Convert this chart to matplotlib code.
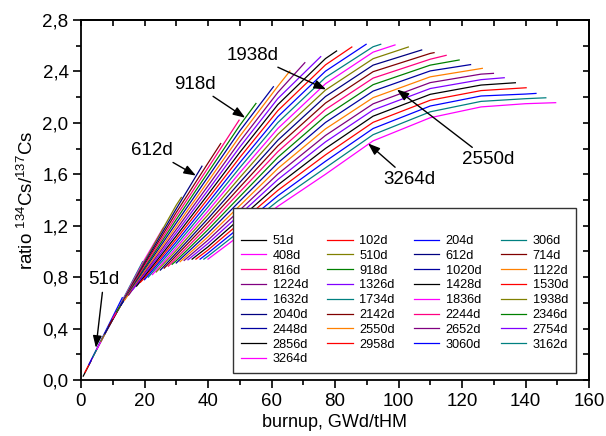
import matplotlib
matplotlib.use("Agg")
import matplotlib.pyplot as plt
import matplotlib.ticker as mt

plt.rcParams['font.family'] = ['Liberation Sans', 'DejaVu Sans']

# irradiation time of each curve, days
days = [51, 102, 204, 306, 408, 510, 612, 714, 816, 918, 1020, 1122, 1224,
        1326, 1428, 1530, 1632, 1734, 1836, 1938, 2040, 2142, 2244, 2346,
        2448, 2550, 2652, 2754, 2856, 2958, 3060, 3162, 3264]

# burnup (GWd/tHM) and 134Cs/137Cs ratio along each curve
burnup = [
    [0.7, 3.2],
    [1.25, 6.9],
    [2.5, 13.0],
    [3.75, 19.4],
    [5.0, 20, 25.8],
    [6.25, 20, 30, 31.6],
    [7.5, 20, 30, 38.1],
    [8.75, 20, 30, 40, 44.0],
    [10.0, 20, 30, 40, 49.8],
    [11.2, 20, 30, 40, 50, 55.1],
    [12.5, 20, 30, 40, 50, 60.6],
    [13.7, 20, 30, 40, 50, 62, 65.8],
    [15.0, 20, 30, 40, 50, 62, 70.5],
    [16.2, 20, 30, 40, 50, 62, 75.5],
    [17.5, 20, 30, 40, 50, 62, 77, 80.5],
    [18.7, 20, 30, 40, 50, 62, 77, 85.3],
    [20.0, 30, 40, 50, 62, 77, 89.8],
    [21.2, 30, 40, 50, 62, 77, 92, 94.4],
    [22.5, 30, 40, 50, 62, 77, 92, 98.9],
    [23.7, 30, 40, 50, 62, 77, 92, 103.1],
    [25.0, 30, 40, 50, 62, 77, 92, 107.3],
    [26.2, 30, 40, 50, 62, 77, 92, 110, 111.2],
    [27.5, 30, 40, 50, 62, 77, 92, 110, 115.0],
    [28.7, 30, 40, 50, 62, 77, 92, 110, 119.1],
    [30.0, 40, 50, 62, 77, 92, 110, 122.7],
    [31.2, 40, 50, 62, 77, 92, 110, 126.4],
    [32.5, 40, 50, 62, 77, 92, 110, 126, 129.9],
    [33.7, 40, 50, 62, 77, 92, 110, 126, 133.3],
    [35.0, 40, 50, 62, 77, 92, 110, 126, 136.8],
    [36.2, 40, 50, 62, 77, 92, 110, 126, 140.2],
    [37.5, 40, 50, 62, 77, 92, 110, 126, 140, 143.3],
    [38.7, 40, 50, 62, 77, 92, 110, 126, 140, 146.4],
    [40.0, 50, 62, 77, 92, 110, 126, 140, 149.5],
]
ratio = [
    [0.03, 0.15],
    [0.06, 0.33],
    [0.12, 0.64],
    [0.18, 0.92],
    [0.24, 0.936, 1.18],
    [0.30, 0.923, 1.36, 1.42],
    [0.36, 0.91, 1.331, 1.663],
    [0.42, 0.897, 1.303, 1.687, 1.839],
    [0.48, 0.884, 1.275, 1.650, 2.021],
    [0.53, 0.871, 1.248, 1.614, 1.980, 2.151],
    [0.58, 0.858, 1.221, 1.579, 1.937, 2.281],
    [0.62, 0.845, 1.195, 1.544, 1.895, 2.285, 2.403],
    [0.66, 0.832, 1.170, 1.510, 1.853, 2.237, 2.468],
    [0.70, 0.819, 1.145, 1.476, 1.811, 2.189, 2.515],
    [0.73, 0.806, 1.120, 1.443, 1.770, 2.142, 2.500, 2.559],
    [0.76, 0.793, 1.097, 1.410, 1.730, 2.095, 2.451, 2.590],
    [0.78, 1.074, 1.378, 1.690, 2.048, 2.402, 2.611],
    [0.80, 1.051, 1.346, 1.651, 2.002, 2.353, 2.592, 2.611],
    [0.82, 1.029, 1.315, 1.612, 1.956, 2.304, 2.550, 2.606],
    [0.84, 1.008, 1.285, 1.574, 1.911, 2.255, 2.499, 2.590],
    [0.855, 0.987, 1.255, 1.536, 1.865, 2.205, 2.449, 2.567],
    [0.87, 0.967, 1.226, 1.499, 1.821, 2.154, 2.398, 2.540, 2.546],
    [0.885, 0.947, 1.197, 1.462, 1.776, 2.104, 2.348, 2.495, 2.525],
    [0.90, 0.928, 1.169, 1.426, 1.732, 2.053, 2.297, 2.449, 2.489],
    [0.91, 1.141, 1.391, 1.688, 2.003, 2.247, 2.404, 2.453],
    [0.92, 1.114, 1.356, 1.645, 1.953, 2.196, 2.358, 2.424],
    [0.93, 1.088, 1.321, 1.602, 1.902, 2.148, 2.313, 2.379, 2.385],
    [0.935, 1.062, 1.287, 1.559, 1.852, 2.100, 2.267, 2.336, 2.351],
    [0.94, 1.036, 1.254, 1.517, 1.801, 2.052, 2.222, 2.294, 2.312],
    [0.94, 1.011, 1.221, 1.475, 1.751, 2.004, 2.176, 2.251, 2.273],
    [0.94, 0.987, 1.188, 1.433, 1.701, 1.956, 2.131, 2.209, 2.224, 2.229],
    [0.94, 0.963, 1.157, 1.392, 1.650, 1.908, 2.086, 2.167, 2.188, 2.195],
    [0.94, 1.125, 1.351, 1.600, 1.860, 2.040, 2.124, 2.149, 2.157],
]

# annotated curves: label, arrow tip, text position
notes = [
    ("51d", (4.7, 0.25), (7.2, 0.78)),
    ("612d", (36.2, 1.59), (22.4, 1.785)),
    ("918d", (51.7, 2.04), (35.9, 2.30)),
    ("1938d", (77.2, 2.26), (53.9, 2.525)),
    ("2550d", (99.5, 2.26), (128.2, 1.715)),
    ("3264d", (90.4, 1.84), (103.3, 1.56)),
]

colors = ['#000000', '#ff0000', '#0000ff', '#008080', '#ff00ff', '#808000',
          '#000080', '#800000', '#ff0080', '#008000', '#0000a0', '#ff8000',
          '#800080', '#8000ff']

fig = plt.figure(figsize=(6.06, 4.36), dpi=100)
ax = fig.add_axes([81 / 606, 56 / 436, 508 / 606, 360 / 436])

handles = []
for i, d in enumerate(days):
    h, = ax.plot(burnup[i], ratio[i], color=colors[i % len(colors)], lw=0.9,
                 label=f"{d}d")
    handles.append(h)

for label, tip, pos in notes:
    ax.annotate(label, xy=tip, xytext=pos, fontsize=13.5, ha='center', va='center',
                arrowprops=dict(arrowstyle='-|>,head_length=0.6,head_width=0.22',
                                color='k', lw=1, mutation_scale=12, shrinkA=1, shrinkB=0))

ax.set_xlim(0, 160)
ax.set_ylim(0, 2.8)
ax.xaxis.set_major_locator(mt.MultipleLocator(20))
ax.xaxis.set_minor_locator(mt.MultipleLocator(10))
ax.yaxis.set_major_locator(mt.MultipleLocator(0.4))
ax.yaxis.set_minor_locator(mt.MultipleLocator(0.2))
ax.yaxis.set_major_formatter(mt.FuncFormatter(lambda v, p: f"{v:.1f}".replace('.', ',')))
ax.tick_params(which='major', length=6, width=1.2, labelsize=13.5, pad=3)
ax.tick_params(which='minor', length=3.5, width=1.2)
for s in ax.spines.values():
    s.set_linewidth(1.3)

# ticks on top and right point inwards, no labels
secx = ax.secondary_xaxis('top')
secx.xaxis.set_major_locator(mt.MultipleLocator(20))
secx.xaxis.set_minor_locator(mt.MultipleLocator(10))
secx.xaxis.set_major_formatter(mt.NullFormatter())
secx.tick_params(which='both', direction='in', length=4, width=1.2)
secy = ax.secondary_yaxis('right')
secy.yaxis.set_major_locator(mt.MultipleLocator(0.4))
secy.yaxis.set_minor_locator(mt.MultipleLocator(0.2))
secy.yaxis.set_major_formatter(mt.NullFormatter())
secy.tick_params(which='both', direction='in', length=4, width=1.2)
secx.spines['top'].set_linewidth(1.3)
secy.spines['right'].set_linewidth(1.3)

ax.set_xlabel("burnup, GWd/tHM", fontsize=13, labelpad=3)
ax.set_ylabel(r"ratio $^{\mathregular{134}}$Cs/$^{\mathregular{137}}$Cs", fontsize=13.5, labelpad=4)

# legend filled row by row, 4 columns
order = [i for c in range(4) for i in range(c, len(handles), 4)]
leg = ax.legend([handles[i] for i in order], [handles[i].get_label() for i in order],
                ncol=4, loc='lower left', bbox_to_anchor=(0.299, 0.019), borderaxespad=0,
                fontsize=9.2, title=' ', title_fontsize=13, frameon=True, fancybox=False,
                edgecolor='#333333', framealpha=1, handlelength=2.0, handletextpad=0.5,
                columnspacing=1.5, labelspacing=0.22, borderpad=0.6)
leg.get_frame().set_linewidth(1.0)
leg.set_zorder(5)

fig.savefig("out.png", dpi=100)
